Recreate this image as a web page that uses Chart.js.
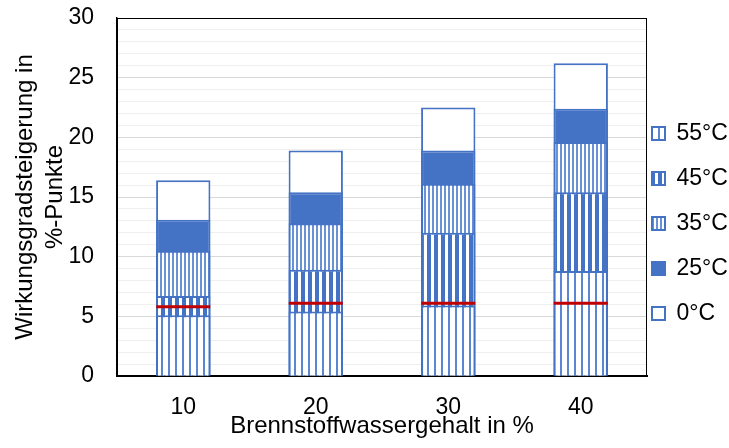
<!DOCTYPE html>
<html>
<head>
<meta charset="utf-8">
<script src="https://cdn.jsdelivr.net/npm/chart.js@4/dist/chart.umd.min.js"></script>
<style>
  html, body { margin: 0; padding: 0; background: #fff; }
  #wrap { width: 729px; height: 448px; }
</style>
</head>
<body>
<div id="wrap"><canvas id="c" width="729" height="448"></canvas></div>
<script>
// Brennstoffwassergehalt categories (x axis)
const categories = ['10', '20', '30', '40'];
// Series names by condensing temperature
const seriesNames = ['55°C', '45°C', '35°C', '25°C', '0°C'];
// Efficiency gain in %-points, one array per temperature
const gain55 = [5.1, 5.4, 5.9, 8.8];
const gain45 = [6.7, 8.9, 12.0, 15.4];
const gain35 = [10.5, 12.8, 16.1, 19.6];
const gain25 = [13.1, 15.4, 18.9, 22.4];
const gain0  = [16.4, 18.9, 22.5, 26.2];
// Reference marker (red line) per category
const refMark = [5.8, 6.1, 6.1, 6.1];
// Labelled y ticks
const yTickLabels = [0, 5, 10, 15, 20, 25, 30];

const BLUE = '#4472C4';
const canvas = document.getElementById('c');
const ctx = canvas.getContext('2d');

// Vertical stripe fill: white ground with blue lines
function stripes(period, lineW, color) {
  const t = document.createElement('canvas');
  t.width = period; t.height = 4;
  const g = t.getContext('2d');
  g.fillStyle = '#fff';
  g.fillRect(0, 0, period, 4);
  g.fillStyle = color;
  g.fillRect(0, 0, lineW, 4);
  return ctx.createPattern(t, 'repeat');
}

const fills = [
  stripes(7, 2, '#5b86d2'),   // 55°C
  stripes(7, 4, BLUE),        // 45°C
  stripes(4, 2, '#6a90d6'),   // 35°C
  BLUE,                       // 25°C
  '#ffffff'                   // 0°C
];
const values = [gain55, gain45, gain35, gain25, gain0];

const barSets = seriesNames.map((name, i) => ({
  type: 'bar',
  label: name,
  data: values[i],
  backgroundColor: fills[i],
  borderColor: BLUE,
  borderWidth: 2,
  categoryPercentage: 0.41,
  barPercentage: 1
}));

const markSet = {
  type: 'line',
  label: 'ref',
  data: refMark,
  showLine: false,
  pointStyle: 'line',
  pointRadius: 27,
  pointHoverRadius: 27,
  pointBorderWidth: 3,
  pointHoverBorderWidth: 3,
  borderColor: '#C00000',
  backgroundColor: '#C00000',
  order: -1
};

// Thin frame round the plot area
const plotFrame = {
  id: 'plotFrame',
  afterDatasetsDraw(chart) {
    const a = chart.chartArea;
    const c = chart.ctx;
    c.save();
    c.strokeStyle = '#000';
    c.lineWidth = 1;
    c.strokeRect(a.left + 0.5, a.top + 0.5, a.right - a.left - 1, a.bottom - a.top);
    c.restore();
  }
};

// Place the legend column just right of the frame
const legendPlace = {
  id: 'legendPlace',
  afterLayout(chart) {
    const lg = chart.legend;
    const a = chart.chartArea;
    lg.left = a.right + 5 - lg.options.labels.padding;
    lg.top = a.top + 82;
  }
};

Chart.defaults.font.family = '"Liberation Sans", Arial, sans-serif';
Chart.defaults.font.size = 23;
Chart.defaults.color = '#000';

new Chart(ctx, {
  data: {
    labels: categories,
    datasets: [...barSets, markSet]
  },
  options: {
    responsive: false,
    animation: false,
    layout: { autoPadding: false, padding: { top: 18, left: 0, right: 0, bottom: 0 } },
    plugins: {
      tooltip: { enabled: false },
      legend: {
        position: 'right',
        align: 'start',
        maxWidth: 82,
        labels: {
          boxWidth: 13,
          boxHeight: 13,
          padding: 22,
          font: { size: 23 },
          filter: (item) => item.text !== 'ref'
        }
      }
    },
    scales: {
      x: {
        stacked: true,
        grid: { display: false },
        border: { color: '#000', width: 2 },
        ticks: { padding: 10 },
        title: {
          display: true,
          text: 'Brennstoffwassergehalt in %',
          font: { size: 24 },
          padding: { top: 0, bottom: 7 }
        },
        afterFit(scale) { scale.height = 72; }
      },
      y: {
        stacked: false,
        min: 0,
        max: 30,
        border: { color: '#000', width: 1.5 },
        grid: {
          drawTicks: false,
          color: (c) => (yTickLabels.includes(c.tick.value) ? '#d9d9d9' : '#efefef'),
          lineWidth: 1
        },
        ticks: {
          stepSize: 1,
          autoSkip: false,
          padding: 23,
          callback: (v) => (yTickLabels.includes(v) ? String(v) : '')
        },
        title: {
          display: true,
          text: ['Wirkungsgradsteigerung in', '%-Punkte'],
          font: { size: 24, lineHeight: 1.25 },
          padding: { top: 10, bottom: 0 }
        },
        afterFit(scale) {
          scale.width = 117;
          scale.paddingTop = 0;
          scale.paddingBottom = 0;
        }
      }
    }
  },
  plugins: [plotFrame, legendPlace]
});
</script>
</body>
</html>
